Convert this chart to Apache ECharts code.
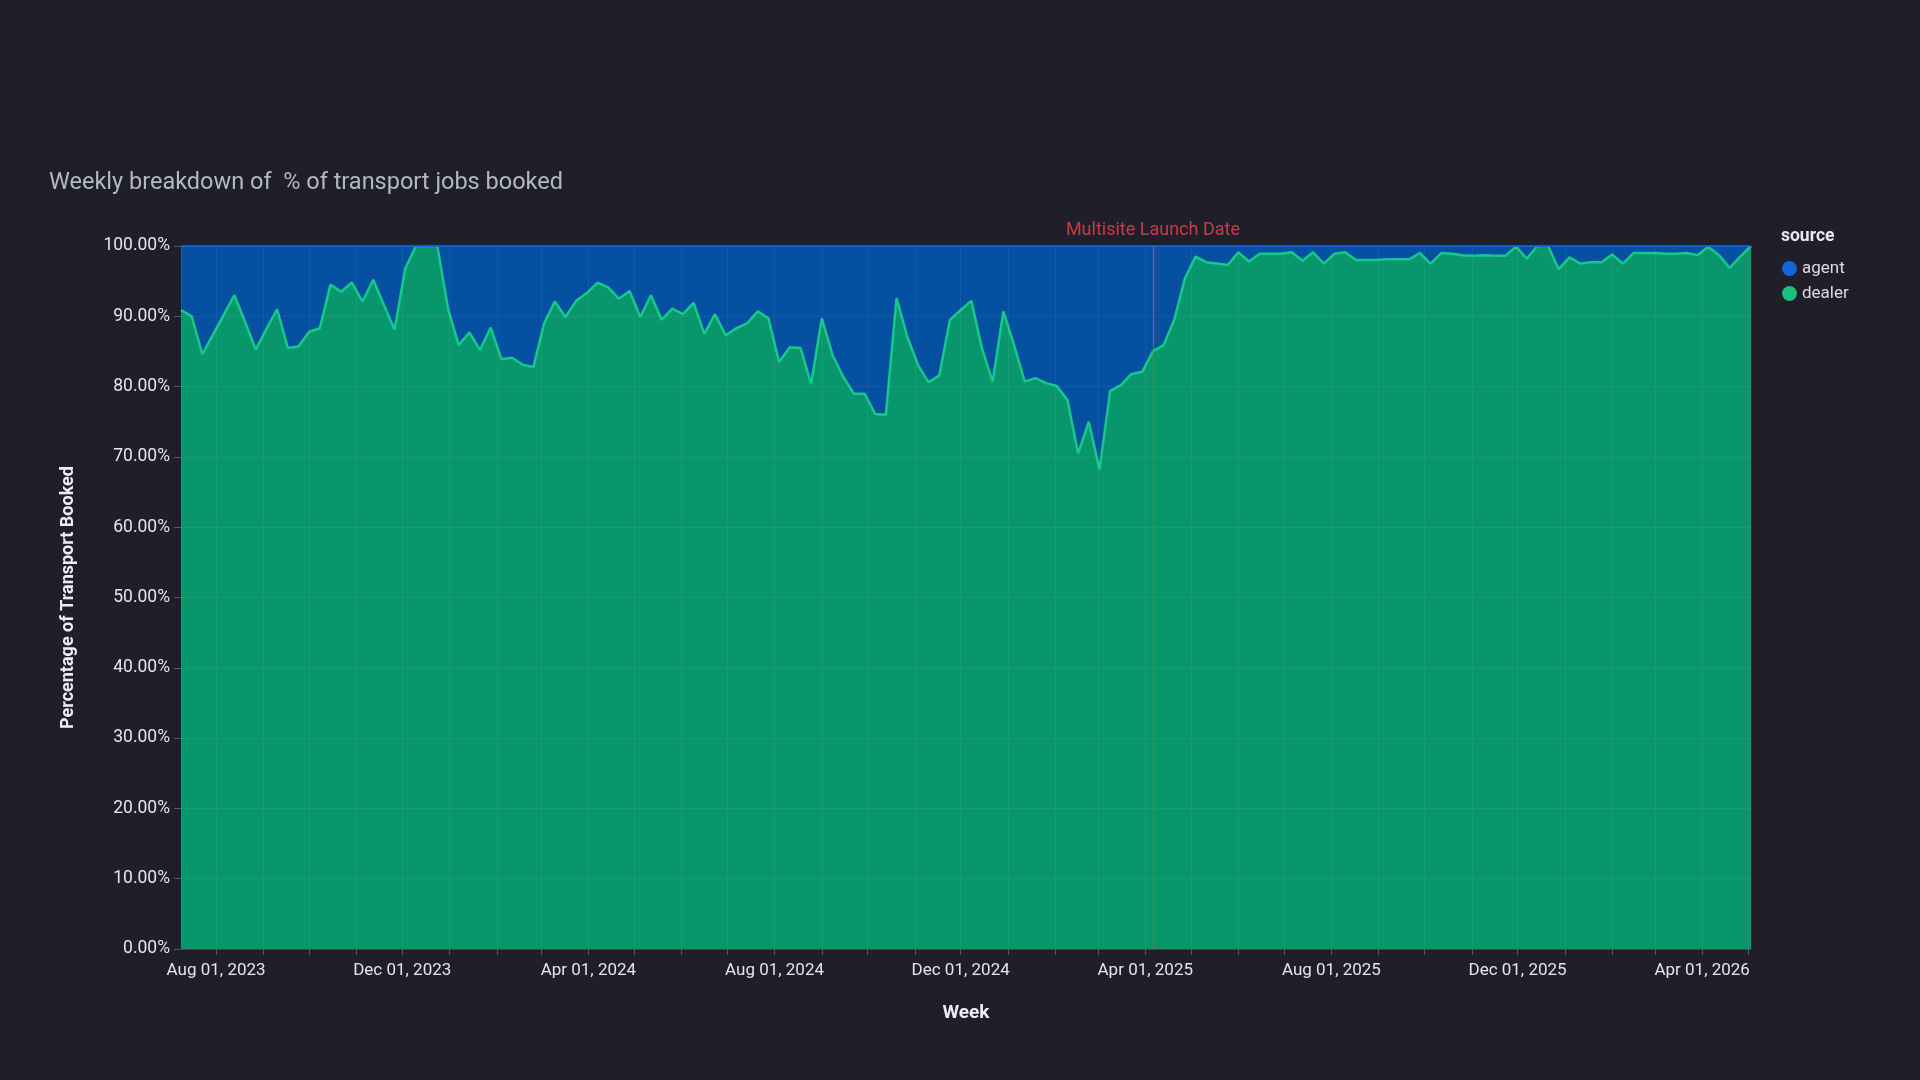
<!DOCTYPE html>
<html>
<head>
<meta charset="utf-8">
<title>Weekly breakdown of % of transport jobs booked</title>
<script src="https://cdn.jsdelivr.net/npm/echarts@6/dist/echarts.min.js"></script>
<style>
  html, body { margin: 0; padding: 0; background: #1e1f2b; }
  #chart { width: 1920px; height: 1080px; }
</style>
</head>
<body>
<div id="chart"></div>
<script>
// weekly buckets, first week starts Sun 09 Jul 2023
const firstWeek = [2023, 6, 9];
const launchDate = new Date(2025, 3, 6).getTime();
const monthNames = ['Jan', 'Feb', 'Mar', 'Apr', 'May', 'Jun', 'Jul', 'Aug', 'Sep', 'Oct', 'Nov', 'Dec'];

// % of jobs booked by dealer, one value per week
const dealer = [
  90.9, 90.0, 84.6, 87.4, 90.2, 93.0, 89.2, 85.3, 88.2, 91.0,
  85.5, 85.7, 87.8, 88.3, 94.5, 93.5, 94.8, 92.1, 95.2, 91.6,
  88.1, 96.8, 100, 100, 100, 91.1, 85.9, 87.7, 85.2, 88.4,
  83.9, 84.1, 83.1, 82.8, 89.0, 92.1, 89.9, 92.2, 93.3, 94.8,
  94.1, 92.5, 93.6, 89.9, 93.0, 89.5, 91.1, 90.3, 91.9, 87.5,
  90.3, 87.3, 88.3, 89.0, 90.7, 89.7, 83.5, 85.6, 85.5, 80.4,
  89.7, 84.5, 81.4, 79.0, 79.0, 76.1, 76.0, 92.6, 87.1, 83.1,
  80.6, 81.6, 89.5, 90.9, 92.2, 85.4, 80.7, 90.7, 85.9, 80.7,
  81.2, 80.5, 80.1, 78.1, 70.5, 75.0, 68.2, 79.4, 80.2, 81.8,
  82.1, 85.0, 85.9, 89.5, 95.4, 98.5, 97.7, 97.5, 97.3, 99.1,
  97.8, 98.9, 98.9, 98.9, 99.1, 97.9, 99.1, 97.5, 98.9, 99.1,
  98.0, 98.0, 98.0, 98.1, 98.1, 98.1, 99.0, 97.5, 99.0, 98.9,
  98.7, 98.6, 98.7, 98.6, 98.6, 99.9, 98.2, 100, 100, 96.7,
  98.4, 97.5, 97.7, 97.7, 98.8, 97.5, 99.0, 99.0, 99.0, 98.9,
  98.9, 99.0, 98.7, 99.9, 98.7, 96.9, 98.5, 100
];

// % of jobs booked by agent, one value per week
const agent = [
  9.1, 10.0, 15.4, 12.6, 9.8, 7.0, 10.8, 14.7, 11.8, 9.0,
  14.5, 14.3, 12.2, 11.7, 5.5, 6.5, 5.2, 7.9, 4.8, 8.4,
  11.9, 3.2, 0, 0, 0, 8.9, 14.1, 12.3, 14.8, 11.6,
  16.1, 15.9, 16.9, 17.2, 11.0, 7.9, 10.1, 7.8, 6.7, 5.2,
  5.9, 7.5, 6.4, 10.1, 7.0, 10.5, 8.9, 9.7, 8.1, 12.5,
  9.7, 12.7, 11.7, 11.0, 9.3, 10.3, 16.5, 14.4, 14.5, 19.6,
  10.3, 15.5, 18.6, 21.0, 21.0, 23.9, 24.0, 7.4, 12.9, 16.9,
  19.4, 18.4, 10.5, 9.1, 7.8, 14.6, 19.3, 9.3, 14.1, 19.3,
  18.8, 19.5, 19.9, 21.9, 29.5, 25.0, 31.8, 20.6, 19.8, 18.2,
  17.9, 15.0, 14.1, 10.5, 4.6, 1.5, 2.3, 2.5, 2.7, 0.9,
  2.2, 1.1, 1.1, 1.1, 0.9, 2.1, 0.9, 2.5, 1.1, 0.9,
  2.0, 2.0, 2.0, 1.9, 1.9, 1.9, 1.0, 2.5, 1.0, 1.1,
  1.3, 1.4, 1.3, 1.4, 1.4, 0.1, 1.8, 0, 0, 3.3,
  1.6, 2.5, 2.3, 2.3, 1.2, 2.5, 1.0, 1.0, 1.0, 1.1,
  1.1, 1.0, 1.3, 0.1, 1.3, 3.1, 1.5, 0
];

const weeks = dealer.map((_, i) => new Date(firstWeek[0], firstWeek[1], firstWeek[2] + 7 * i).getTime());

const chart = echarts.init(document.getElementById('chart'));

chart.setOption({
  backgroundColor: '#1e1f2b',
  textStyle: { fontFamily: 'Roboto, "Noto Sans", sans-serif' },
  title: [
    {
      text: 'Weekly breakdown of  % of transport jobs booked',
      left: 44,
      top: 166,
      textStyle: { color: '#b6b7c4', fontSize: 23.5, fontWeight: 'normal' }
    },
    {
      text: 'source',
      left: 1776,
      top: 223,
      textStyle: { color: '#e8e8f0', fontSize: 17.5, fontWeight: 'bold' }
    }
  ],
  legend: {
    data: ['agent', 'dealer'],
    orient: 'vertical',
    left: 1777,
    top: 255,
    icon: 'circle',
    itemWidth: 15,
    itemHeight: 15,
    itemGap: 8,
    textStyle: { color: '#dcdce6', fontSize: 17 }
  },
  grid: {
    left: 181,
    right: 169,
    top: 246,
    bottom: 131,
    containLabel: false
  },
  xAxis: {
    type: 'time',
    min: weeks[0],
    max: weeks[weeks.length - 1],
    minInterval: 28 * 86400000,
    maxInterval: 31 * 86400000,
    z: 5,
    name: 'Week',
    nameLocation: 'middle',
    nameGap: 55,
    nameTextStyle: { color: '#ececf2', fontSize: 19, fontWeight: 'bold' },
    axisLine: { show: true, lineStyle: { color: 'rgba(255,255,255,0.12)' } },
    axisTick: { show: true, length: 6, lineStyle: { color: '#555866' } },
    splitLine: { show: true, lineStyle: { color: 'rgba(255,255,255,0.055)', width: 1 } },
    axisLabel: {
      color: '#e4e4ec',
      fontSize: 17,
      margin: 13,
      formatter: (val) => {
        const d = new Date(val);
        if (d.getDate() !== 1 || d.getMonth() % 4 !== 3) return '';
        return monthNames[d.getMonth()] + ' 01, ' + d.getFullYear();
      }
    }
  },
  yAxis: {
    type: 'value',
    min: 0,
    max: 100,
    interval: 10,
    z: 5,
    name: 'Percentage of Transport Booked',
    nameLocation: 'middle',
    nameGap: 104,
    nameTextStyle: { color: '#ececf2', fontSize: 18, fontWeight: 'bold' },
    axisLine: { show: false },
    axisTick: { show: true, length: 7, lineStyle: { color: '#555866' } },
    splitLine: { show: true, lineStyle: { color: 'rgba(255,255,255,0.055)', width: 1 } },
    axisLabel: {
      color: '#e4e4ec',
      fontSize: 17.5,
      margin: 11,
      formatter: (v) => v.toFixed(2) + '%'
    }
  },
  series: [
    {
      name: 'dealer',
      type: 'line',
      stack: 'share',
      symbol: 'none',
      data: weeks.map((w, i) => [w, dealer[i]]),
      itemStyle: { color: '#1dbf80' },
      lineStyle: { color: '#14c98b', width: 2.5 },
      areaStyle: { color: '#0a966b', opacity: 1 }
    },
    {
      name: 'agent',
      type: 'line',
      stack: 'share',
      symbol: 'none',
      data: weeks.map((w, i) => [w, agent[i]]),
      itemStyle: { color: '#1565d6' },
      lineStyle: { color: '#0f5bc0', width: 2 },
      areaStyle: { color: '#0650a1', opacity: 1 },
      markLine: {
        silent: true,
        symbol: 'none',
        animation: false,
        lineStyle: { color: '#c8485a', width: 1.2, type: 'solid', opacity: 0.85 },
        label: {
          show: true,
          position: 'end',
          distance: 7,
          formatter: 'Multisite Launch Date',
          color: '#e0424e',
          fontSize: 18
        },
        data: [{ xAxis: launchDate }]
      }
    }
  ]
});
</script>
</body>
</html>
